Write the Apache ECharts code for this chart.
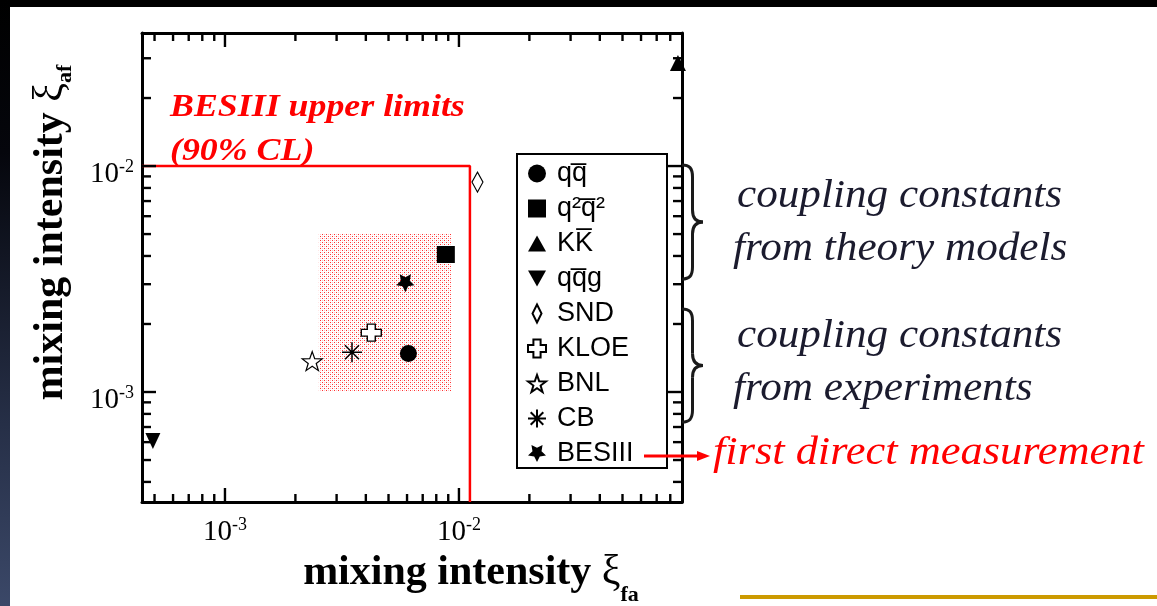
<!DOCTYPE html>
<html>
<head>
<meta charset="utf-8">
<script src="https://cdn.jsdelivr.net/npm/echarts@6/dist/echarts.min.js"></script>
<style>
  html, body { margin:0; padding:0; background:#000; width:1157px; height:606px; overflow:hidden; }
  #strip { position:absolute; left:0; top:0; width:10px; height:606px;
           background:linear-gradient(#000 0%, #05060c 25%, #262f47 70%, #3b4868 100%); }
  #white { position:absolute; left:10px; top:7px; width:1147px; height:599px; background:#fff; }
  #chart { position:absolute; left:0; top:0; width:1157px; height:606px; }
</style>
</head>
<body>
<div id="strip"></div>
<div id="white"></div>
<div id="chart"></div>
<script>
// ---------------- data ----------------
const seriesNames = ['qq\u0305', 'q\u00B2q\u0305\u00B2', 'KK\u0305', 'qq\u0305g', 'SND', 'KLOE', 'BNL', 'CB', 'BESIII'];
const xiFa = [6.08e-3, 8.79e-3, 8.63e-2, 4.92e-4, 1.20e-2, 4.22e-3, 2.36e-3, 3.49e-3, 5.90e-3];
const xiAf = [1.48e-3, 4.06e-3, 2.86e-2, 6.07e-4, 8.49e-3, 1.83e-3, 1.37e-3, 1.50e-3, 3.03e-3];

const xRange = [4.42e-4, 8.98e-2];
const yRange = [3.26e-4, 3.88e-2];

const xMajorTicks = [1e-3, 1e-2];
const xMinorTicks = [5e-4, 6e-4, 7e-4, 8e-4, 9e-4, 2e-3, 3e-3, 4e-3, 5e-3, 6e-3, 7e-3, 8e-3, 9e-3, 2e-2, 3e-2, 4e-2, 5e-2, 6e-2, 7e-2, 8e-2];
const yMajorTicks = [1e-3, 1e-2];
const yMinorTicks = [4e-4, 5e-4, 6e-4, 7e-4, 8e-4, 9e-4, 2e-3, 3e-3, 4e-3, 5e-3, 6e-3, 7e-3, 8e-3, 9e-3, 2e-2, 3e-2];

// BESIII upper limits (90% CL)
const limitX = 1.114e-2;
const limitY = 1.0e-2;
// shaded BESIII region [x0, y0, x1, y1]
const shadedRegion = [2.52e-3, 1.0e-3, 9.25e-3, 5.0e-3];

// ---------------- styles ----------------
const STAR_UP = 'path://M10,0 L12.35,6.76 L19.51,6.91 L13.80,11.24 L15.88,18.09 L10,14 L4.12,18.09 L6.20,11.24 L0.49,6.91 L7.65,6.76 Z';
const STAR_DOWN = 'path://M10,20 L7.06,14.05 L0.49,13.09 L5.24,8.45 L4.12,1.91 L10,5 L15.88,1.91 L14.76,8.45 L19.51,13.09 L12.94,14.05 Z';
const CROSS = 'path://M3,0 L7,0 L7,3 L10,3 L10,7 L7,7 L7,10 L3,10 L3,7 L0,7 L0,3 L3,3 Z';
const ASTER = 'path://M10,0 L10,20 M0,10 L20,10 M3,3 L17,17 M17,3 L3,17';
const TRI_DOWN = 'path://M0,0 L10,0 L5,9 Z';
const TRI_UP = 'path://M5,0 L10,9 L0,9 Z';
const DIAMOND = 'path://M5,0 L10,10 L5,20 L0,10 Z';

const markers = [
  { symbol: 'circle',  size: 17,       fill: '#000', bw: 0 },
  { symbol: 'rect',    size: [18, 17], fill: '#000', bw: 0 },
  { symbol: TRI_UP,    size: [16, 16], fill: '#000', bw: 0 },
  { symbol: TRI_DOWN,  size: [15, 16], fill: '#000', bw: 0 },
  { symbol: DIAMOND,   size: [11, 20], fill: '#fff', bw: 1.2 },
  { symbol: CROSS,     size: [20, 17], fill: '#fff', bw: 1.3 },
  { symbol: STAR_UP,   size: [20, 19], fill: '#fff', bw: 1.2 },
  { symbol: ASTER,     size: [20, 20], fill: '#000', bw: 1.5 },
  { symbol: STAR_DOWN, size: [18, 18], fill: '#000', bw: 0 }
];

// dotted pattern for the shaded area
const pc = document.createElement('canvas');
pc.width = 4; pc.height = 4;
const pctx = pc.getContext('2d');
pctx.fillStyle = '#ff3030';
pctx.fillRect(0, 0, 1, 1); pctx.fillRect(2, 2, 1, 1);
pctx.fillStyle = '#ffc4c4';
pctx.fillRect(2, 0, 1, 1); pctx.fillRect(0, 2, 1, 1);

const serif = '"Liberation Serif", "Times New Roman", serif';
const sans = '"Liberation Sans", Arial, sans-serif';

function decadeLabel(v) {
  const l = Math.log10(v);
  const e = Math.round(l);
  if (Math.abs(l - e) > 1e-6) return '';
  return '{b|10}{s|' + e + '}';
}
const xTickRich = {
  b: { fontFamily: serif, fontSize: 29, color: '#000' },
  s: { fontFamily: serif, fontSize: 18, color: '#000', padding: [0, 0, 14, 0] }
};
const yTickRich = {
  b: { fontFamily: serif, fontSize: 29, color: '#000', padding: [16, 0, 0, 0] },
  s: { fontFamily: serif, fontSize: 18, color: '#000', padding: [16, 0, 14, 0] }
};

const TICK = { stroke: '#000', lineWidth: 2.4 };
function xTicks(len) {
  return function (params, api) {
    const cs = params.coordSys;
    const px = api.coord([api.value(0), yRange[0]])[0];
    return { type: 'group', children: [
      { type: 'line', shape: { x1: px, y1: cs.y + cs.height, x2: px, y2: cs.y + cs.height - len }, style: TICK },
      { type: 'line', shape: { x1: px, y1: cs.y, x2: px, y2: cs.y + len }, style: TICK }
    ]};
  };
}
function yTicks(len) {
  return function (params, api) {
    const cs = params.coordSys;
    const py = api.coord([xRange[0], api.value(1)])[1];
    return { type: 'group', children: [
      { type: 'line', shape: { x1: cs.x, y1: py, x2: cs.x + len, y2: py }, style: TICK },
      { type: 'line', shape: { x1: cs.x + cs.width, y1: py, x2: cs.x + cs.width - len, y2: py }, style: TICK }
    ]};
  };
}

const axisLine = { show: true, onZero: false, lineStyle: { color: '#000', width: 3 } };

const series = [
  { type: 'custom', silent: true, z: 1, clip: false,
    data: [shadedRegion],
    encode: { x: [0, 2], y: [1, 3] },
    renderItem: function (params, api) {
      const p0 = api.coord([api.value(0), api.value(1)]);
      const p1 = api.coord([api.value(2), api.value(3)]);
      return { type: 'rect',
        shape: { x: Math.min(p0[0], p1[0]), y: Math.min(p0[1], p1[1]),
                 width: Math.abs(p1[0] - p0[0]), height: Math.abs(p1[1] - p0[1]) },
        style: { fill: { image: pc, repeat: 'repeat' } } };
    } },
  { type: 'line', silent: true, z: 2, symbol: 'none',
    data: [[xRange[0], limitY], [limitX, limitY], [limitX, yRange[0]]],
    lineStyle: { color: '#ff0000', width: 2.5 } },
  { type: 'custom', silent: true, z: 5, clip: false, renderItem: xTicks(8),
    data: xMinorTicks.map(v => [v, yRange[0]]) },
  { type: 'custom', silent: true, z: 5, clip: false, renderItem: xTicks(14),
    data: xMajorTicks.map(v => [v, yRange[0]]) },
  { type: 'custom', silent: true, z: 5, clip: false, renderItem: yTicks(9),
    data: yMinorTicks.map(v => [xRange[0], v]) },
  { type: 'custom', silent: true, z: 5, clip: false, renderItem: yTicks(14),
    data: yMajorTicks.map(v => [xRange[0], v]) }
];

seriesNames.forEach(function (name, i) {
  const m = markers[i];
  series.push({
    type: 'scatter', name: name, z: 3,
    symbol: m.symbol, symbolSize: m.size,
    itemStyle: { color: m.fill, borderColor: '#000', borderWidth: m.bw, opacity: 1 },
    data: [[xiFa[i], xiAf[i]]]
  });
});

function brace(x, y, w, h) {
  const sx = w / 20, sy = h / 114;
  const P = (px, py) => [x + px * sx, y + py * sy];
  const st = { fill: 'none', stroke: '#1a1a1a', lineWidth: 3 };
  function bez(a, c1, c2, b) {
    const A = P(a[0], a[1]), C1 = P(c1[0], c1[1]), C2 = P(c2[0], c2[1]), B = P(b[0], b[1]);
    return { type: 'bezierCurve', z: 10,
      shape: { x1: A[0], y1: A[1], cpx1: C1[0], cpy1: C1[1], cpx2: C2[0], cpy2: C2[1], x2: B[0], y2: B[1] }, style: st };
  }
  function seg(a, b) {
    const A = P(a[0], a[1]), B = P(b[0], b[1]);
    return { type: 'line', z: 10, shape: { x1: A[0], y1: A[1], x2: B[0], y2: B[1] }, style: st };
  }
  return { type: 'group', children: [
    bez([0, 0], [7, 0], [10, 3], [10, 12]),
    seg([10, 12], [10, 45]),
    bez([10, 45], [10, 53], [13, 57], [20, 57]),
    bez([20, 57], [13, 57], [10, 61], [10, 69]),
    seg([10, 69], [10, 102]),
    bez([10, 102], [10, 111], [7, 114], [0, 114])
  ]};
}
function note(text, x, y, color, size, sx) {
  return { type: 'text', x: x, y: y, z: 10, scaleX: sx, originX: 0, originY: 0,
    style: { text: text, fill: color, font: 'italic ' + size + 'px ' + serif, align: 'left', verticalAlign: 'middle' } };
}

const chart = echarts.init(document.getElementById('chart'), null, { renderer: 'canvas' });
chart.setOption({
  animation: false,
  backgroundColor: 'transparent',
  grid: { left: 142, right: 475, top: 33, bottom: 104, containLabel: false, outerBoundsMode: 'none' },
  xAxis: [
    { type: 'log', min: xRange[0], max: xRange[1], position: 'bottom',
      axisLine: axisLine, axisTick: { show: false }, splitLine: { show: false }, minorTick: { show: false },
      axisLabel: { formatter: decadeLabel, margin: 14, rich: xTickRich, showMinLabel: true, showMaxLabel: true },
      name: '{t|mixing intensity }{x|\u03BE}{s|fa}', nameLocation: 'middle', nameGap: 38,
      nameTextStyle: { padding: [0, 0, 0, 118], rich: {
        t: { fontFamily: serif, fontWeight: 'bold', fontSize: 42, color: '#000' },
        x: { fontFamily: serif, fontSize: 42, color: '#000' },
        s: { fontFamily: serif, fontWeight: 'bold', fontSize: 22, color: '#000', padding: [44, 0, 0, 0] } } } },
    { type: 'log', min: xRange[0], max: xRange[1], position: 'top',
      axisLine: axisLine, axisTick: { show: false }, splitLine: { show: false }, axisLabel: { show: false } }
  ],
  yAxis: [
    { type: 'log', min: yRange[0], max: yRange[1], position: 'left',
      axisLine: axisLine, axisTick: { show: false }, splitLine: { show: false }, minorTick: { show: false },
      axisLabel: { formatter: decadeLabel, margin: 8, rich: yTickRich },
      name: '{t|mixing intensity }{x|\u03BE}{s|af}', nameLocation: 'middle', nameRotate: 90, nameGap: 66,
      nameTextStyle: { padding: [0, 0, 0, 70], rich: {
        t: { fontFamily: serif, fontWeight: 'bold', fontSize: 42, color: '#000' },
        x: { fontFamily: serif, fontSize: 42, color: '#000' },
        s: { fontFamily: serif, fontWeight: 'bold', fontSize: 22, color: '#000', padding: [28, 0, 0, 0] } } } },
    { type: 'log', min: yRange[0], max: yRange[1], position: 'right',
      axisLine: axisLine, axisTick: { show: false }, splitLine: { show: false }, axisLabel: { show: false } }
  ],
  legend: {
    orient: 'vertical', left: 527, top: 160, padding: 0,
    itemWidth: 18, itemHeight: 18, itemGap: 8, symbolKeepAspect: true,
    data: seriesNames, selectedMode: false, z: 12,
    textStyle: { fontFamily: sans, fontSize: 27, lineHeight: 27, color: '#000', padding: [0, 0, 0, 6] }
  },
  graphic: [
    { type: 'rect', z: 11, shape: { x: 517, y: 154, width: 150, height: 314 },
      style: { fill: '#fff', stroke: '#000', lineWidth: 2 } },
    { type: 'text', x: 170, y: 86, z: 10, scaleX: 1.12, originX: 0, originY: 0,
      style: { text: 'BESIII upper limits\n(90% CL)', fill: '#ff0000', font: 'italic bold 32px ' + serif,
               lineHeight: 44, align: 'left', verticalAlign: 'top' } },
    note('coupling constants', 737, 196, '#1b1b2e', 40, 1.08),
    note('from theory models', 733, 249, '#1b1b2e', 40, 1.08),
    note('coupling constants', 737, 336, '#1b1b2e', 40, 1.08),
    note('from experiments', 733, 389, '#1b1b2e', 40, 1.08),
    note('first direct measurement', 713, 453, '#ff0000', 40, 1.11),
    brace(682, 165, 21, 114),
    brace(682, 309, 21, 113),
    { type: 'line', z: 13, shape: { x1: 644, y1: 456, x2: 700, y2: 456 }, style: { stroke: '#ff0000', lineWidth: 3 } },
    { type: 'polygon', z: 13, shape: { points: [[697, 451], [710, 456], [697, 461]] }, style: { fill: '#ff0000' } },
    { type: 'rect', z: 10, shape: { x: 740, y: 595, width: 417, height: 4 }, style: { fill: '#cc9a00' } }
  ],
  series: series
});
</script>
</body>
</html>
